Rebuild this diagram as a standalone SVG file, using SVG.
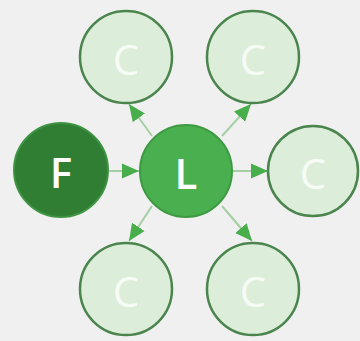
<svg xmlns="http://www.w3.org/2000/svg" width="360" height="341" viewBox="0 0 360 341">
<style>
.c{fill:#dcedd9;stroke:#4b854e;stroke-width:2.5}
.t{font-family:"Open Sans","Liberation Sans",sans-serif;font-size:42px;text-anchor:middle;dominant-baseline:central}
.tc{fill:#f6fbf5}
.tw{fill:#ffffff;font-weight:600}
.e{stroke:#a5cfa3;stroke-width:2;fill:none}
</style>
<defs>
<marker id="ah" markerUnits="userSpaceOnUse" markerWidth="18" markerHeight="16" refX="17" refY="7.5" orient="auto" viewBox="0 0 18 15">
<path d="M0,0 L17,7.5 L0,15 Z" fill="#48ad4b"/>
</marker>
</defs>
<rect width="360" height="341" fill="#f1f0f0"/>
<g id="connectors">
<line class="e" x1="109" y1="171" x2="139" y2="171" marker-end="url(#ah)"/>
<line class="e" x1="233" y1="171" x2="268" y2="171" marker-end="url(#ah)"/>
<line class="e" x1="152" y1="136" x2="129" y2="104" marker-end="url(#ah)"/>
<line class="e" x1="222" y1="136" x2="251" y2="104" marker-end="url(#ah)"/>
<line class="e" x1="152" y1="206" x2="129" y2="241" marker-end="url(#ah)"/>
<line class="e" x1="222" y1="206" x2="252" y2="241" marker-end="url(#ah)"/>
</g>
<g id="F"><circle cx="61" cy="170" r="47" fill="#2f7e33" stroke="#3f9443" stroke-width="2"/><text class="t tw" x="61" y="171">F</text></g>
<g id="L"><circle cx="186" cy="171" r="46" fill="#4aaf4e" stroke="#3e9a42" stroke-width="2"/><text class="t tw" x="186" y="172">L</text></g>
<g id="C1"><circle class="c" cx="126" cy="57" r="46"/><text class="t tc" x="126" y="58">C</text></g>
<g id="C2"><circle class="c" cx="253" cy="57" r="46"/><text class="t tc" x="253" y="58">C</text></g>
<g id="C3"><circle class="c" cx="313" cy="171" r="45"/><text class="t tc" x="313" y="172">C</text></g>
<g id="C4"><circle class="c" cx="126" cy="289" r="46"/><text class="t tc" x="126" y="290">C</text></g>
<g id="C5"><circle class="c" cx="253" cy="289" r="46"/><text class="t tc" x="253" y="290">C</text></g>
</svg>
